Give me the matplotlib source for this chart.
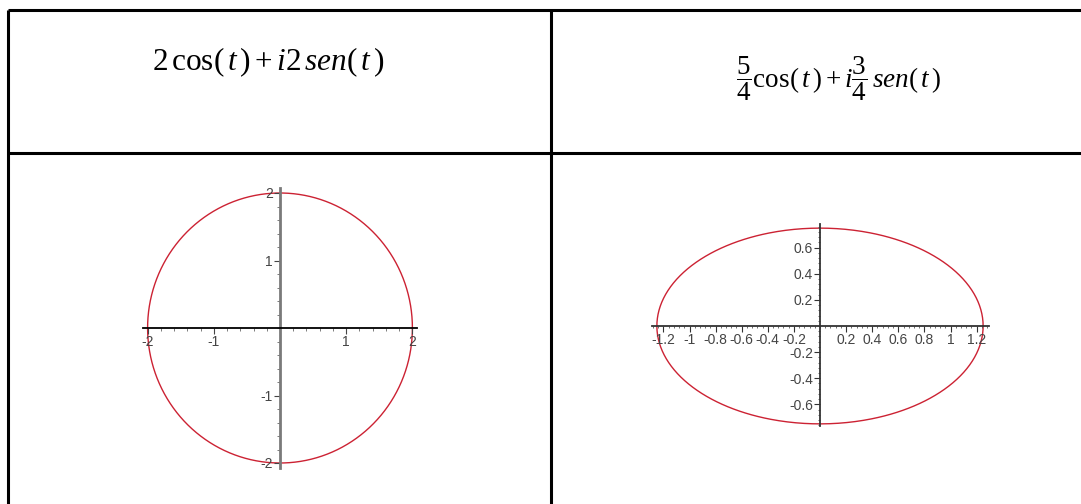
import numpy as np
import matplotlib
matplotlib.use("Agg")
import matplotlib.pyplot as plt
from matplotlib.ticker import FixedLocator, FuncFormatter

plt.rcParams["mathtext.fontset"] = "custom"
plt.rcParams["mathtext.rm"] = "Liberation Serif"
plt.rcParams["mathtext.it"] = "Liberation Serif:italic"
plt.rcParams["font.family"] = ["Liberation Sans", "DejaVu Sans"]
plt.rcParams["axes.unicode_minus"] = False

# semi-axes (real, imaginary) of each curve
circle_re, circle_im = 2.0, 2.0
ellipse_re, ellipse_im = 5 / 4, 3 / 4

formula_left = r"$2\,\cos(\,t\,) + i2\,sen(\,t\,)$"
formula_right = r"$\dfrac{5}{4}\cos(\,t\,) + i\dfrac{3}{4}\,sen(\,t\,)$"

circle_xticks = [-2, -1, 1, 2]
circle_yticks = [-2, -1, 1, 2]
ellipse_xticks = [-1.2, -1, -0.8, -0.6, -0.4, -0.2, 0.2, 0.4, 0.6, 0.8, 1, 1.2]
ellipse_yticks = [-0.6, -0.4, -0.2, 0.2, 0.4, 0.6]

W, H = 1081, 504
fig = plt.figure(figsize=(W / 100, H / 100), dpi=100)
fig.patch.set_facecolor("white")

# table frame, drawn in pixel coordinates
tab = fig.add_axes([0, 0, 1, 1])
tab.set_xlim(0, W)
tab.set_ylim(H, 0)
tab.axis("off")
lw = 2.2
tab.plot([8, W], [10, 10], color="black", lw=lw, solid_capstyle="butt")
tab.plot([8, 8], [10, H], color="black", lw=lw, solid_capstyle="butt")
tab.plot([551, 551], [10, H], color="black", lw=lw, solid_capstyle="butt")
tab.plot([8, W], [153, 153], color="black", lw=lw, solid_capstyle="butt")

tab.text(268, 62, formula_left, fontsize=22.5, ha="center", va="center")
tab.text(839, 79, formula_right, fontsize=19.5, ha="center", va="center")


def maple_axes(cx, cy, sx, sy, xlim, ylim):
    w = (xlim[1] - xlim[0]) * sx
    h = (ylim[1] - ylim[0]) * sy
    left = cx + xlim[0] * sx
    top = cy - ylim[1] * sy
    ax = fig.add_axes([left / W, 1 - (top + h) / H, w / W, h / H])
    ax.set_xlim(xlim)
    ax.set_ylim(ylim)
    ax.patch.set_alpha(0)
    for s in ("top", "right"):
        ax.spines[s].set_visible(False)
    ax.spines["left"].set_position(("data", 0))
    ax.spines["bottom"].set_position(("data", 0))
    ax.xaxis.set_major_formatter(FuncFormatter(lambda v, p: f"{v:g}"))
    ax.yaxis.set_major_formatter(FuncFormatter(lambda v, p: f"{v:g}"))
    return ax


t = np.linspace(0, 2 * np.pi, 600)

# circle
ax1 = maple_axes(280, 328, 66.2, 67.5, (-2.3, 2.3), (-2.3, 2.3))
ax1.plot(circle_re * np.cos(t), circle_im * np.sin(t), color="#cc2233", lw=1.0, zorder=1)
ax1.spines["bottom"].set_bounds(-2.07, 2.07)
ax1.spines["left"].set_bounds(-2.07, 2.07)
ax1.spines["bottom"].set_color("black")
ax1.spines["bottom"].set_linewidth(1.3)
ax1.spines["left"].set_color("#7a7a7a")
ax1.spines["left"].set_linewidth(2.0)
ax1.xaxis.set_major_locator(FixedLocator(circle_xticks))
ax1.yaxis.set_major_locator(FixedLocator(circle_yticks))
minor1 = np.round(np.arange(-2.0, 2.01, 0.2), 2)
ax1.xaxis.set_minor_locator(FixedLocator(minor1))
ax1.yaxis.set_minor_locator(FixedLocator(minor1))
ax1.tick_params(which="major", length=4, width=0.8, color="#444444",
                labelsize=10, labelcolor="#444444", pad=1)
ax1.tick_params(which="minor", length=2, width=0.6, color="#666666")

# ellipse
ax2 = maple_axes(820, 326, 130.5, 130.5, (-1.4, 1.4), (-0.85, 0.85))
ax2.plot(ellipse_re * np.cos(t), ellipse_im * np.sin(t), color="#cc2233", lw=1.0, zorder=1)
ax2.spines["bottom"].set_bounds(-1.29, 1.295)
ax2.spines["left"].set_bounds(-0.77, 0.78)
for s in ("bottom", "left"):
    ax2.spines[s].set_color("#333333")
    ax2.spines[s].set_linewidth(1.3)
ax2.xaxis.set_major_locator(FixedLocator(ellipse_xticks))
ax2.yaxis.set_major_locator(FixedLocator(ellipse_yticks))
ax2.xaxis.set_minor_locator(FixedLocator(np.round(np.arange(-1.28, 1.29, 0.04), 2)))
ax2.yaxis.set_minor_locator(FixedLocator(np.round(np.arange(-0.76, 0.77, 0.04), 2)))
ax2.tick_params(which="major", length=4, width=0.8, color="#333333",
                labelsize=10, labelcolor="#444444", pad=1)
ax2.tick_params(which="minor", length=1.5, width=0.6, color="#555555")

fig.savefig("out.png", dpi=100)
